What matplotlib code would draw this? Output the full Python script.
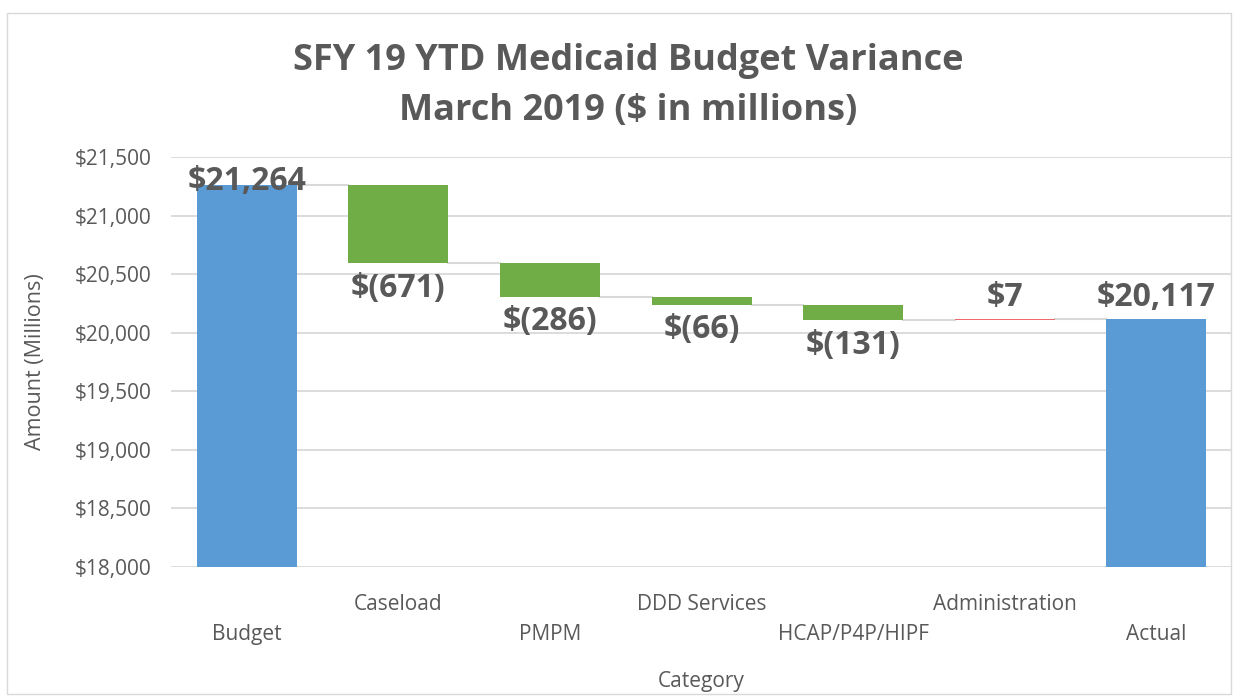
import matplotlib
matplotlib.use("Agg")
import matplotlib.pyplot as plt
from matplotlib.patches import Rectangle

categories = ["Budget", "Caseload", "PMPM", "DDD Services", "HCAP/P4P/HIPF", "Administration", "Actual"]
values = [21264, -671, -286, -66, -131, 7, 20117]
kinds = ["total", "delta", "delta", "delta", "delta", "delta", "total"]
labels = ["$21,264", "$(671)", "$(286)", "$(66)", "$(131)", "$7", "$20,117"]
yticks = [18000, 18500, 19000, 19500, 20000, 20500, 21000, 21500]
ytick_labels = ["$18,000", "$18,500", "$19,000", "$19,500", "$20,000", "$20,500", "$21,000", "$21,500"]

plt.rcParams['font.family'] = ['Open Sans', 'DejaVu Sans']
TXT = "#595959"
BLUE = "#5B9BD5"
GREEN = "#70AD47"
RED = "#F0696B"
GRID = "#D9D9D9"

fig = plt.figure(figsize=(12.36, 6.96), dpi=100)
fig.patches.append(Rectangle((0.006, 0.003), 0.99, 0.978, transform=fig.transFigure,
                             fill=False, edgecolor="#D9D9D9", linewidth=1.0))
ax = fig.add_axes([0.1384, 0.1853, 0.8584, 0.5891])

width = 0.66
running = 0
bottoms, tops, levels = [], [], []
for i, (v, k) in enumerate(zip(values, kinds)):
    if k == "total":
        b, t = 0, v
        running = v
        color = BLUE
    else:
        start = running
        running = running + v
        b, t = min(start, running), max(start, running)
        color = GREEN if v < 0 else RED
    bottoms.append(b)
    tops.append(t)
    levels.append(running)
    h = max(t - b, 3)
    ax.bar(i, h, bottom=b, width=width, color=color, zorder=3)

# connectors
for i in range(len(values) - 1):
    ax.plot([i + width / 2, i + 1 - width / 2], [levels[i], levels[i]],
            color=GRID, linewidth=1.5, zorder=2)

# labels
for i, (v, k, lab) in enumerate(zip(values, kinds, labels)):
    if k == "total" or v > 0:
        y = min(tops[i] + 180, 21290)
    else:
        y = bottoms[i] - 215
    ax.text(i, y, lab, ha="center", va="center", fontsize=23,
            fontweight="bold", color=TXT, zorder=4)

ax.set_xlim(-0.5, len(values) - 0.5)
ax.set_ylim(18000, 21500)
ax.set_yticks(yticks)
ax.set_yticklabels(ytick_labels, fontsize=15, color=TXT)
ax.yaxis.grid(True, color=GRID, linewidth=1.3, zorder=0)
ax.set_axisbelow(True)
for s in ax.spines.values():
    s.set_visible(False)
ax.tick_params(axis="y", length=0, pad=14)
ax.tick_params(axis="x", length=0)
ax.set_xticks(range(len(categories)))
ax.set_xticklabels([""] * len(categories))
for i, c in enumerate(categories):
    off = 0.092 if i % 2 == 1 else 0.165
    ax.text(i, -off, c, transform=ax.get_xaxis_transform(), ha="center", va="center",
            fontsize=15, color=TXT)

ax.text(0.5, -0.278, "Category", transform=ax.transAxes, ha="center", va="center",
        fontsize=15, color=TXT)
ax.text(-0.128, 0.5, "Amount (Millions)", transform=ax.transAxes, ha="center", va="center",
        rotation=90, fontsize=15.5, color=TXT)

fig.text(0.508, 0.912, "SFY 19 YTD Medicaid Budget Variance", ha="center", va="center",
         fontsize=26, fontweight="bold", color=TXT)
fig.text(0.508, 0.841, "March 2019 ($ in millions)", ha="center", va="center",
         fontsize=26, fontweight="bold", color=TXT)

fig.savefig("out.png", dpi=100)
